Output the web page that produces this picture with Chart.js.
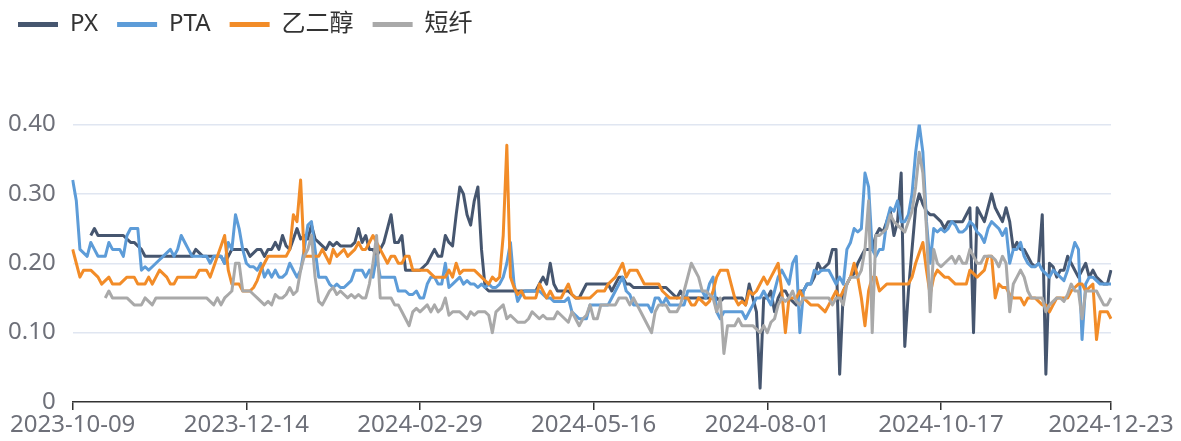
<!DOCTYPE html>
<html>
<head>
<meta charset="utf-8">
<script src="https://cdn.jsdelivr.net/npm/chart.js@4.4.1/dist/chart.umd.min.js"></script>
<style>
html,body{margin:0;padding:0;background:#fff;}
#wrap{width:1181px;height:441px;}
</style>
</head>
<body>
<div id="wrap"><canvas id="c" width="1181" height="441"></canvas></div>
<script>
const seriesNames = ['PX', 'PTA', '乙二醇', '短纤'];
const tickDates = ['2023-10-09','2023-12-14','2024-02-29','2024-05-16','2024-08-01','2024-10-17','2024-12-23'];
const tickPositions = [0, 48, 96, 144, 192, 240, 287];
const yTicks = [0, 0.1, 0.2, 0.3, 0.4];

const px = [
null,null,null,null,null,0.24,0.25,0.24,0.24,0.24,
0.24,0.24,0.24,0.24,0.24,0.235,0.23,0.23,0.225,0.22,
0.21,0.21,0.21,0.21,0.21,0.21,0.21,0.21,0.21,0.21,
0.21,0.21,0.21,0.21,0.22,0.215,0.21,0.21,0.21,0.21,
0.21,0.21,0.20,0.21,0.22,0.22,0.22,0.22,0.22,0.21,
0.215,0.22,0.22,0.21,0.22,0.22,0.23,0.22,0.24,0.225,
0.22,0.235,0.25,0.235,0.24,0.235,0.255,0.235,0.23,0.225,
0.22,0.23,0.225,0.23,0.225,0.225,0.225,0.225,0.23,0.25,
0.23,0.24,0.22,0.22,0.21,0.22,0.23,0.25,0.27,0.23,
0.23,0.24,0.19,0.19,0.19,0.19,0.19,0.195,0.20,0.21,
0.22,0.21,0.21,0.24,0.23,0.225,0.27,0.31,0.30,0.27,
0.255,0.29,0.31,0.22,0.165,0.16,0.16,0.16,0.16,0.16,
0.16,0.16,0.16,0.16,0.16,0.16,0.16,0.16,0.16,0.17,
0.18,0.17,0.20,0.17,0.16,0.16,0.16,0.16,0.155,0.15,
0.15,0.16,0.17,0.17,0.17,0.17,0.17,0.17,0.17,0.16,
0.17,0.18,0.18,0.17,0.17,0.165,0.165,0.165,0.165,0.165,
0.165,0.165,0.165,0.165,0.165,0.16,0.155,0.15,0.16,0.15,
0.15,0.15,0.15,0.15,0.15,0.15,0.15,0.15,0.15,0.145,
0.15,0.15,0.15,0.15,0.15,0.15,0.14,0.17,0.15,0.13,
0.02,0.15,0.15,0.16,0.13,0.15,0.16,0.16,0.15,0.145,
0.14,0.16,0.16,0.17,0.17,0.18,0.20,0.19,0.195,0.20,
0.22,0.22,0.04,0.16,0.17,0.18,0.185,0.20,0.21,0.22,
0.22,0.22,0.24,0.25,0.245,0.26,0.275,0.24,0.26,0.33,
0.08,0.16,0.22,0.28,0.30,0.285,0.275,0.27,0.27,0.265,
0.26,0.25,0.26,0.26,0.26,0.26,0.26,0.27,0.28,0.10,
0.28,0.27,0.26,0.28,0.30,0.28,0.27,0.26,0.28,0.26,
0.22,0.23,0.22,0.22,0.21,0.20,0.195,0.20,0.27,0.04,
0.20,0.195,0.18,0.19,0.19,0.21,0.20,0.19,0.18,0.19,
0.20,0.18,0.19,0.18,0.175,0.17,0.17,0.19
];

const pta = [
0.32,0.29,0.22,0.215,0.21,0.23,0.22,0.21,0.21,0.21,
0.23,0.22,0.22,0.22,0.21,0.24,0.25,0.25,0.25,0.19,
0.195,0.19,0.195,0.20,0.205,0.21,0.215,0.22,0.21,0.22,
0.24,0.23,0.22,0.21,0.21,0.21,0.21,0.21,0.20,0.21,
0.21,0.21,0.20,0.23,0.22,0.27,0.25,0.22,0.20,0.195,
0.195,0.19,0.20,0.18,0.19,0.18,0.19,0.18,0.18,0.185,
0.20,0.19,0.18,0.19,0.22,0.255,0.26,0.22,0.18,0.18,
0.18,0.17,0.165,0.17,0.165,0.165,0.17,0.175,0.19,0.19,
0.19,0.18,0.19,0.18,0.21,0.18,0.18,0.18,0.18,0.18,
0.16,0.16,0.16,0.155,0.155,0.16,0.15,0.15,0.17,0.18,
0.18,0.17,0.17,0.20,0.165,0.17,0.175,0.18,0.17,0.175,
0.17,0.17,0.165,0.17,0.165,0.17,0.165,0.165,0.17,0.18,
0.20,0.23,0.17,0.145,0.155,0.16,0.16,0.16,0.16,0.16,
0.155,0.15,0.15,0.145,0.145,0.145,0.145,0.15,0.13,0.125,
0.12,0.12,0.12,0.14,0.14,0.14,0.14,0.14,0.14,0.15,
0.16,0.17,0.18,0.16,0.155,0.14,0.14,0.14,0.14,0.14,
0.13,0.15,0.15,0.14,0.15,0.14,0.14,0.14,0.14,0.14,
0.16,0.16,0.16,0.16,0.16,0.15,0.17,0.18,0.13,0.12,
0.13,0.13,0.13,0.13,0.13,0.13,0.12,0.13,0.14,0.15,
0.15,0.16,0.15,0.14,0.16,0.18,0.19,0.18,0.17,0.20,
0.21,0.10,0.16,0.17,0.17,0.19,0.185,0.19,0.19,0.19,
0.18,0.17,0.18,0.17,0.22,0.23,0.25,0.245,0.25,0.33,
0.31,0.22,0.21,0.22,0.22,0.26,0.28,0.275,0.29,0.26,
0.26,0.27,0.30,0.36,0.40,0.36,0.26,0.20,0.25,0.245,
0.25,0.245,0.25,0.26,0.255,0.245,0.245,0.25,0.26,0.255,
0.245,0.24,0.23,0.25,0.26,0.255,0.25,0.24,0.25,0.20,
0.22,0.22,0.23,0.21,0.20,0.195,0.195,0.20,0.19,0.185,
0.18,0.19,0.185,0.18,0.175,0.19,0.21,0.23,0.22,0.09,
0.17,0.18,0.18,0.175,0.17,0.17,0.17,0.17
];

const meg = [
0.22,0.20,0.18,0.19,0.19,0.19,0.185,0.18,0.17,0.175,
0.18,0.17,0.17,0.17,0.175,0.18,0.18,0.18,0.17,0.17,
0.17,0.18,0.17,0.18,0.19,0.185,0.18,0.17,0.17,0.18,
0.18,0.18,0.18,0.18,0.18,0.19,0.19,0.19,0.18,0.195,
0.21,0.225,0.24,0.19,0.17,0.17,0.17,0.16,0.16,0.16,
0.165,0.175,0.19,0.20,0.21,0.21,0.21,0.21,0.21,0.21,
0.22,0.27,0.26,0.32,0.21,0.21,0.21,0.21,0.21,0.22,
0.21,0.20,0.22,0.21,0.215,0.22,0.21,0.215,0.22,0.23,
0.22,0.22,0.23,0.24,0.23,0.22,0.21,0.20,0.21,0.21,
0.20,0.20,0.21,0.21,0.19,0.19,0.19,0.19,0.19,0.185,
0.18,0.18,0.18,0.18,0.19,0.18,0.20,0.185,0.19,0.19,
0.19,0.19,0.185,0.18,0.175,0.17,0.18,0.175,0.18,0.24,
0.37,0.18,0.165,0.155,0.16,0.15,0.15,0.15,0.15,0.17,
0.16,0.15,0.16,0.15,0.15,0.15,0.16,0.17,0.155,0.15,
0.15,0.15,0.15,0.15,0.155,0.16,0.16,0.16,0.17,0.175,
0.18,0.19,0.20,0.18,0.19,0.19,0.19,0.18,0.17,0.17,
0.17,0.17,0.17,0.16,0.155,0.15,0.15,0.15,0.15,0.15,
0.15,0.14,0.14,0.15,0.145,0.14,0.145,0.16,0.18,0.19,
0.19,0.19,0.17,0.15,0.14,0.145,0.14,0.16,0.155,0.16,
0.17,0.18,0.17,0.18,0.19,0.20,0.16,0.10,0.15,0.15,
0.15,0.16,0.15,0.145,0.14,0.14,0.14,0.135,0.13,0.14,
0.15,0.16,0.15,0.16,0.17,0.18,0.20,0.18,0.15,0.11,
0.16,0.18,0.18,0.16,0.165,0.17,0.17,0.17,0.17,0.17,
0.17,0.17,0.18,0.20,0.215,0.23,0.19,0.155,0.18,0.19,
0.185,0.18,0.18,0.175,0.17,0.17,0.17,0.17,0.19,0.185,
0.18,0.185,0.19,0.21,0.21,0.15,0.17,0.165,0.165,0.155,
0.15,0.15,0.15,0.14,0.15,0.15,0.15,0.145,0.14,0.14,
0.13,0.14,0.15,0.15,0.15,0.15,0.16,0.165,0.17,0.17,
0.16,0.165,0.17,0.09,0.13,0.13,0.13,0.12
];

const psf = [
null,null,null,null,null,null,null,null,null,0.15,
0.16,0.15,0.15,0.15,0.15,0.15,0.145,0.14,0.14,0.14,
0.15,0.145,0.14,0.15,0.15,0.15,0.15,0.15,0.15,0.15,
0.15,0.15,0.15,0.15,0.15,0.15,0.15,0.15,0.145,0.14,
0.15,0.14,0.15,0.155,0.16,0.20,0.20,0.16,0.16,0.16,
0.155,0.15,0.145,0.14,0.145,0.14,0.155,0.15,0.15,0.155,
0.165,0.155,0.16,0.19,0.21,0.22,0.24,0.18,0.145,0.14,
0.15,0.16,0.165,0.155,0.16,0.155,0.15,0.155,0.15,0.155,
0.15,0.15,0.17,0.20,0.24,0.15,0.15,0.15,0.15,0.14,
0.14,0.13,0.12,0.11,0.13,0.135,0.13,0.135,0.14,0.13,
0.14,0.13,0.135,0.15,0.125,0.13,0.13,0.13,0.125,0.12,
0.13,0.125,0.13,0.13,0.13,0.125,0.10,0.13,0.135,0.14,
0.12,0.125,0.12,0.115,0.115,0.115,0.12,0.13,0.125,0.12,
0.125,0.12,0.12,0.12,0.13,0.125,0.12,0.115,0.13,0.12,
0.11,0.12,0.125,0.14,0.12,0.12,0.14,0.14,0.14,0.14,
0.14,0.15,0.15,0.15,0.14,0.15,0.14,0.13,0.12,0.11,
0.10,0.13,0.14,0.14,0.14,0.13,0.13,0.13,0.14,0.16,
0.18,0.20,0.19,0.18,0.16,0.16,0.155,0.15,0.13,0.15,
0.07,0.11,0.11,0.11,0.12,0.11,0.11,0.11,0.11,0.105,
0.10,0.11,0.10,0.115,0.12,0.14,0.15,0.145,0.15,0.16,
0.145,0.14,0.15,0.15,0.15,0.15,0.15,0.15,0.15,0.15,
0.14,0.15,0.15,0.14,0.17,0.18,0.18,0.18,0.19,0.22,
0.29,0.10,0.24,0.24,0.245,0.25,0.27,0.26,0.255,0.25,
0.245,0.26,0.275,0.31,0.36,0.33,0.25,0.13,0.22,0.20,
0.195,0.20,0.205,0.21,0.20,0.21,0.20,0.20,0.22,0.21,
0.20,0.20,0.21,0.21,0.21,0.205,0.195,0.21,0.20,0.13,
0.17,0.18,0.19,0.18,0.16,0.15,0.15,0.15,0.15,0.13,
0.14,0.145,0.15,0.15,0.145,0.155,0.17,0.16,0.16,0.12,
0.16,0.16,0.16,0.16,0.15,0.14,0.14,0.15
];

const categories = px.map((_, i) => {
  const k = tickPositions.indexOf(i);
  return k >= 0 ? tickDates[k] : '';
});

const colors = ['#46566f', '#5d9cd8', '#f28c28', '#a9a9a9'];
const seriesData = [px, pta, meg, psf];

Chart.defaults.font.family = "'Noto Sans', 'Noto Sans CJK SC', sans-serif";
Chart.defaults.font.size = 24;

const legendSpacer = {
  id: 'legendSpacer',
  beforeInit(chart) {
    const origFit = chart.legend.fit;
    chart.legend.fit = function () {
      origFit.call(this);
      this.height += 78;
    };
  }
};

new Chart(document.getElementById('c'), {
  type: 'line',
  data: {
    labels: categories,
    datasets: seriesNames.map((name, i) => ({
      label: name,
      data: seriesData[i],
      borderColor: colors[i],
      backgroundColor: colors[i],
      borderWidth: 3,
      pointRadius: 0,
      pointHoverRadius: 0,
      tension: 0,
      spanGaps: false,
      borderJoinStyle: 'round',
      order: seriesNames.length - 1 - i
    }))
  },
  options: {
    responsive: false,
    animation: false,
    events: [],
    layout: { padding: { left: -1, top: -6.5, right: 70, bottom: 0 } },
    plugins: {
      tooltip: { enabled: false },
      legend: {
        display: true,
        position: 'top',
        align: 'start',
        labels: {
          boxWidth: 40,
          boxHeight: 5,
          padding: 19,
          color: '#333333',
          font: { size: 24 },
          sort: (a, b) => a.datasetIndex - b.datasetIndex,
          generateLabels(chart) {
            const items = Chart.defaults.plugins.legend.labels.generateLabels(chart);
            items.forEach(it => { it.lineWidth = 0; });
            return items;
          }
        }
      }
    },
    scales: {
      x: {
        type: 'category',
        offset: false,
        afterFit(scale) { scale.height = 39; },
        afterBuildTicks(scale) {
          scale.ticks = tickPositions.map(v => ({ value: v }));
        },
        border: { display: true, color: '#333333', width: 1.5 },
        grid: {
          display: true,
          drawOnChartArea: false,
          drawTicks: true,
          tickLength: 8,
          color: '#333333',
          lineWidth: 1.5
        },
        ticks: {
          autoSkip: false,
          maxRotation: 0,
          minRotation: 0,
          padding: 1,
          color: '#6e7079',
          font: { size: 24 },
          callback(value) { return this.getLabelForValue(value); }
        }
      },
      y: {
        min: 0,
        max: 0.4,
        afterFit(scale) { scale.width = 73.7; },
        afterBuildTicks(scale) {
          scale.ticks = yTicks.map(v => ({ value: v }));
        },
        border: { display: false },
        grid: {
          drawTicks: false,
          color: ctx => (ctx.tick && ctx.tick.value === 0) ? 'rgba(0,0,0,0)' : '#e0e6f1',
          lineWidth: 1.5
        },
        ticks: {
          padding: 17,
          color: '#6e7079',
          font: { size: 24 },
          callback: v => (v === 0 ? '0' : v.toFixed(2))
        }
      }
    }
  },
  plugins: [legendSpacer]
});
</script>
</body>
</html>
